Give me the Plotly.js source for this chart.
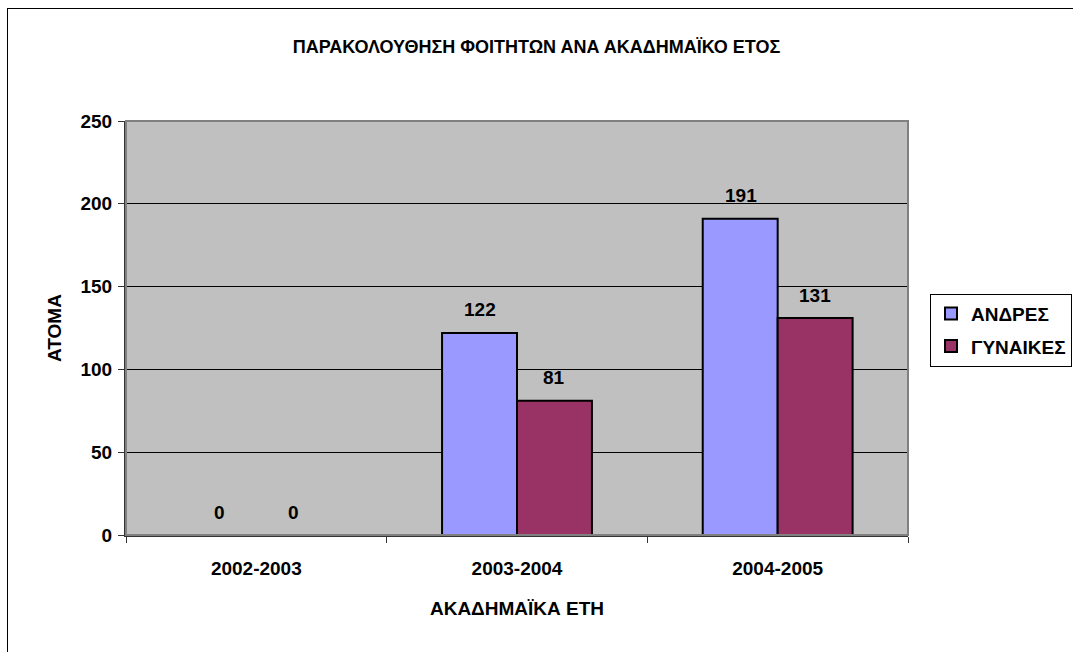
<!DOCTYPE html>
<html>
<head>
<meta charset="utf-8">
<script src="https://cdn.plot.ly/plotly-3.0.1.min.js"></script>
<style>
  html, body { margin: 0; padding: 0; background: #fff; overflow: hidden; }
  #frame { position: absolute; left: 7px; top: 8px; width: 1200px; height: 800px; border: 1px solid #000; box-sizing: border-box; }
  #chart { position: absolute; left: 0; top: 0; width: 1073px; height: 652px; }
</style>
</head>
<body>
<div id="frame"></div>
<div id="chart"></div>
<script>
const categories = ['2002-2003', '2003-2004', '2004-2005'];
const seriesNames = ['ΑΝΔΡΕΣ', 'ΓΥΝΑΙΚΕΣ'];
const men = [0, 122, 191];
const women = [0, 81, 131];
const yTicks = [0, 50, 100, 150, 200, 250];

const FONT = 'Liberation Sans, Arial, sans-serif';
const FS = 19;
const colors = ['#9999FF', '#993366'];
const seriesValues = [men, women];
const boldFont = { family: FONT, size: FS, color: '#000', weight: 'bold' };

const traces = seriesValues.map((vals, i) => ({
  type: 'bar',
  name: '<b>' + seriesNames[i] + '</b>',
  x: categories,
  y: vals,
  legendgroup: 'g' + i,
  marker: { color: colors[i], line: { color: '#000', width: 2 } },
  hoverinfo: 'none'
}));

const annotations = [];
seriesValues.forEach((vals, i) => {
  vals.forEach((v, j) => {
    annotations.push({
      x: categories[j], y: v, xref: 'x', yref: 'y',
      text: String(v), showarrow: false,
      xshift: i === 0 ? -37 : 37, yshift: 23,
      font: boldFont
    });
  });
});

const layout = {
  width: 1073, height: 652,
  paper_bgcolor: 'rgba(0,0,0,0)',
  plot_bgcolor: '#C0C0C0',
  margin: { l: 126, r: 165, t: 121, b: 117, autoexpand: false },
  font: boldFont,
  title: {
    text: 'ΠΑΡΑΚΟΛΟΥΘΗΣΗ ΦΟΙΤΗΤΩΝ ΑΝΑ ΑΚΑΔΗΜΑΪΚΟ ΕΤΟΣ',
    x: 0.5, xref: 'container', y: 1 - 47 / 652, yref: 'container', yanchor: 'middle',
    font: { family: FONT, size: 18, color: '#000', weight: 'bold' }
  },
  barmode: 'group',
  bargap: 0.425,
  bargroupgap: 0,
  xaxis: {
    type: 'category',
    showgrid: false,
    showline: true, linecolor: '#333', linewidth: 2,
    ticks: 'outside', tickson: 'boundaries', ticklen: 6, tickcolor: '#333', tickwidth: 1,
    ticklabelstandoff: 15,
    tickfont: boldFont,
    title: { text: 'ΑΚΑΔΗΜΑΪΚΑ ΕΤΗ', standoff: 23.5, font: boldFont },
    fixedrange: true
  },
  yaxis: {
    range: [0, 250],
    tickvals: yTicks,
    showgrid: true, gridcolor: '#000', gridwidth: 1,
    zeroline: false,
    showline: true, linecolor: '#333', linewidth: 2,
    ticks: 'outside', ticklen: 6, tickcolor: '#333', tickwidth: 1,
    ticklabelstandoff: 2,
    tickfont: boldFont,
    title: { text: 'ΑΤΟΜΑ', standoff: 14, font: boldFont },
    fixedrange: true
  },
  showlegend: true,
  legend: {
    x: (930 - 126) / 782, xanchor: 'left',
    y: 0.495, yanchor: 'middle',
    bgcolor: '#fff', bordercolor: '#000', borderwidth: 1,
    traceorder: 'grouped', tracegroupgap: 5,
    itemwidth: 30,
    font: boldFont
  },
  shapes: [{
    type: 'rect', xref: 'paper', yref: 'paper', x0: 0, x1: 1, y0: 0, y1: 1,
    line: { color: '#808080', width: 2 }, layer: 'above'
  }],
  annotations: annotations
};

Plotly.newPlot('chart', traces, layout, { displayModeBar: false, staticPlot: true });
</script>
</body>
</html>
